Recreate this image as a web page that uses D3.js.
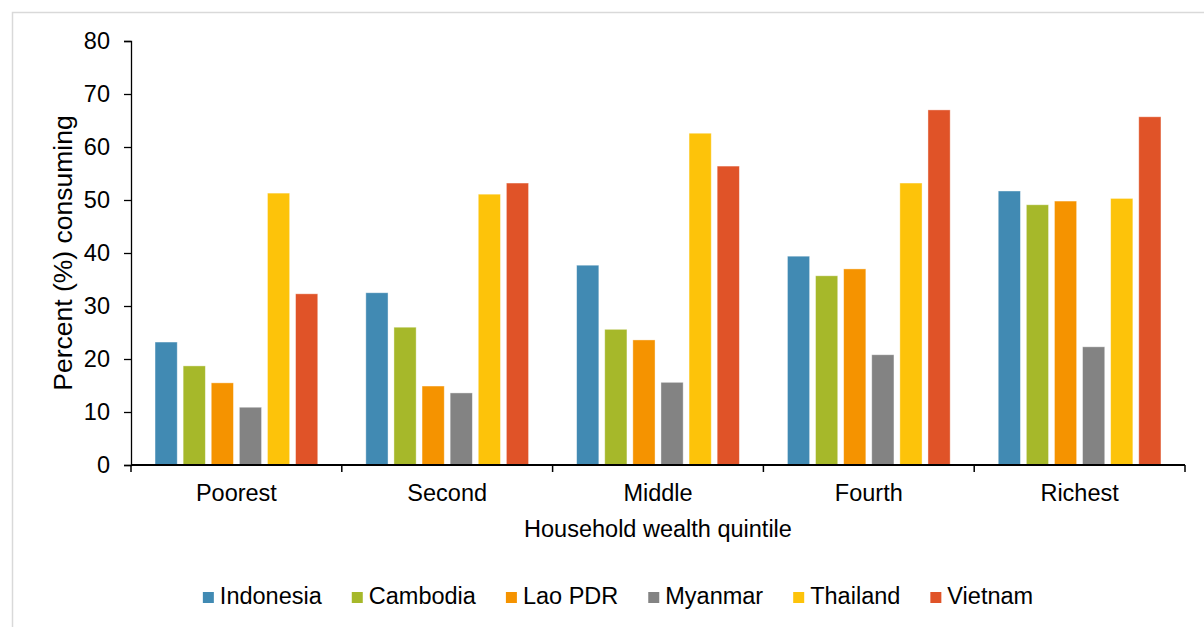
<!DOCTYPE html>
<html>
<head>
<meta charset="utf-8">
<script src="https://cdn.jsdelivr.net/npm/d3@7"></script>
<style>
  html, body { margin: 0; padding: 0; background: #fff; }
  svg { display: block; font-family: "Liberation Sans", Arial, sans-serif; }
</style>
</head>
<body>
<svg id="chart" width="1204" height="627"></svg>
<script>
// Share of households consuming, by wealth quintile and country
const quintiles = ["Poorest", "Second", "Middle", "Fourth", "Richest"];
const countries = ["Indonesia", "Cambodia", "Lao PDR", "Myanmar", "Thailand", "Vietnam"];
const colors = ["#418ab3", "#a6b82a", "#f59300", "#838383", "#fdc30a", "#e05328"];

const indonesia = [23.2, 32.5, 37.7, 39.4, 51.7];
const cambodia  = [18.7, 26.0, 25.6, 35.7, 49.1];
const laoPDR    = [15.5, 14.9, 23.6, 37.0, 49.8];
const myanmar   = [10.9, 13.6, 15.6, 20.8, 22.3];
const thailand  = [51.3, 51.1, 62.6, 53.2, 50.3];
const vietnam   = [32.3, 53.2, 56.4, 67.0, 65.7];
const seriesValues = [indonesia, cambodia, laoPDR, myanmar, thailand, vietnam];

const yTicks = [0, 10, 20, 30, 40, 50, 60, 70, 80];

const labelSize = 23.5;
const svg = d3.select("#chart");

// outer frame
svg.append("rect")
  .attr("x", 12.5).attr("y", 12.5)
  .attr("width", 1220).attr("height", 640)
  .attr("fill", "none").attr("stroke", "#d9d9d9").attr("stroke-width", 1.5);

const plot = { left: 131, right: 1185, top: 41, bottom: 465 };

const x0 = d3.scaleBand().domain(quintiles).range([plot.left, plot.right]).padding(0);
const x1 = d3.scaleBand().domain(countries).range([0, x0.bandwidth()]).paddingInner(0.21).paddingOuter(0.855);
const y = d3.scaleLinear().domain([0, 80]).range([plot.bottom, plot.top]);
const color = d3.scaleOrdinal().domain(countries).range(colors);

// bars
const groups = svg.append("g").selectAll("g")
  .data(quintiles)
  .join("g")
  .attr("transform", d => `translate(${x0(d)},0)`);

groups.selectAll("rect")
  .data((q, qi) => countries.map((c, ci) => ({ country: c, value: seriesValues[ci][qi] })))
  .join("rect")
  .attr("x", d => x1(d.country))
  .attr("width", x1.bandwidth())
  .attr("y", d => y(d.value))
  .attr("height", d => y(0) - y(d.value))
  .attr("fill", d => color(d.country))
  .attr("stroke", "#ffffff").attr("stroke-opacity", 0.5).attr("stroke-width", 0.8);

// y axis
const yAxis = svg.append("g")
  .attr("transform", `translate(${plot.left},0)`)
  .call(d3.axisLeft(y).tickValues(yTicks).tickSize(7).tickPadding(14).tickFormat(d3.format("d")));
yAxis.select(".domain").attr("stroke", "#000").attr("stroke-width", 1.3);
yAxis.selectAll(".tick line").attr("stroke", "#000").attr("stroke-width", 1.3);
yAxis.selectAll("text").attr("font-size", labelSize).attr("fill", "#000")
  .attr("font-family", "Liberation Sans, Arial, sans-serif");

// x axis with ticks between categories
const xAxisG = svg.append("g").attr("transform", `translate(0,${plot.bottom})`);
xAxisG.append("line")
  .attr("x1", plot.left).attr("x2", plot.right)
  .attr("stroke", "#000").attr("stroke-width", 2);
const boundaries = quintiles.map(q => x0(q)).concat([x0(quintiles[quintiles.length - 1]) + x0.bandwidth()]);
xAxisG.selectAll(".bound").data(boundaries).join("line")
  .attr("class", "bound")
  .attr("x1", d => d).attr("x2", d => d)
  .attr("y1", 0).attr("y2", 7)
  .attr("stroke", "#000").attr("stroke-width", 1.5);
xAxisG.selectAll(".cat").data(quintiles).join("text")
  .attr("class", "cat")
  .attr("x", d => x0(d) + x0.bandwidth() / 2)
  .attr("y", 36)
  .attr("text-anchor", "middle")
  .attr("font-size", labelSize)
  .attr("fill", "#000")
  .text(d => d);

// axis titles
svg.append("text")
  .attr("x", (plot.left + plot.right) / 2)
  .attr("y", 537)
  .attr("text-anchor", "middle")
  .attr("font-size", labelSize)
  .attr("fill", "#000")
  .text("Household wealth quintile");

svg.append("text")
  .attr("transform", `translate(72,${(plot.top + plot.bottom) / 2}) rotate(-90)`)
  .attr("text-anchor", "middle")
  .attr("font-size", 26.5)
  .attr("fill", "#000")
  .text("Percent (%) consuming");

// legend
const legend = svg.append("g");
const items = legend.selectAll("g").data(countries).join("g");
items.append("rect")
  .attr("width", 11).attr("height", 11)
  .attr("y", -12)
  .attr("fill", d => color(d));
items.append("text")
  .attr("x", 17)
  .attr("y", 0)
  .attr("font-size", labelSize)
  .attr("fill", "#000")
  .text(d => d);

let cursor = 0;
items.each(function () {
  const g = d3.select(this);
  g.attr("transform", `translate(${cursor},0)`);
  const w = g.select("text").node().getComputedTextLength();
  cursor += 17 + w + 30;
});
const legendWidth = cursor - 30;
legend.attr("transform", `translate(${618 - legendWidth / 2},604)`);
</script>
</body>
</html>
